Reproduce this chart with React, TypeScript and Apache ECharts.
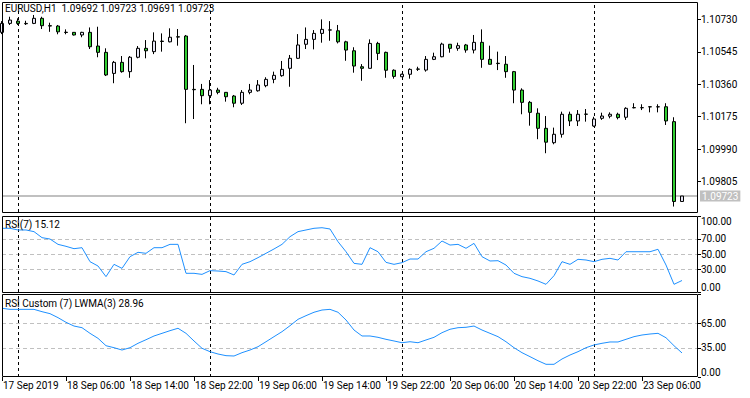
import React, { useEffect, useRef } from "react";
import * as echarts from "echarts";

// ---- data ----
const sessions: [string, number, number][] = [
  ["17 Sep", 22, 23],
  ["18 Sep", 0, 23],
  ["19 Sep", 0, 23],
  ["20 Sep", 0, 23],
  ["23 Sep", 0, 11],
];
const categories: string[] = [];
sessions.forEach(([d, a, b]) => {
  for (let h = a; h <= b; h++) categories.push(`${d} ${String(h).padStart(2, "0")}:00`);
});
categories.push("pad1", "pad2");

const opens = [1.10656,1.10707,1.10720,1.10707,1.10707,1.10736,1.10694,1.10692,1.10657,1.10656,1.10641,1.10656,1.10578,1.10542,1.10422,1.10485,1.10432,1.10514,1.10565,1.10546,1.10606,1.10602,1.10631,1.10635,1.10331,1.10331,1.10295,1.10327,1.10314,1.10293,1.10252,1.10314,1.10323,1.10352,1.10388,1.10409,1.10451,1.10508,1.10588,1.10616,1.10650,1.10670,1.10665,1.10602,1.10551,1.10460,1.10451,1.10593,1.10542,1.10440,1.10403,1.10417,1.10447,1.10441,1.10502,1.10517,1.10588,1.10565,1.10584,1.10555,1.10599,1.10502,1.10480,1.10474,1.10432,1.10327,1.10257,1.10195,1.10109,1.10027,1.10075,1.10189,1.10151,1.10190,1.10122,1.10166,1.10178,1.10189,1.10172,1.10227,1.10226,1.10232,1.10231,1.10232,1.10147,1.09692];
const highs = [1.10720,1.10745,1.10736,1.10722,1.10755,1.10745,1.10711,1.10698,1.10673,1.10658,1.10659,1.10684,1.10688,1.10565,1.10493,1.10521,1.10521,1.10578,1.10612,1.10656,1.10650,1.10679,1.10675,1.10641,1.10470,1.10362,1.10384,1.10340,1.10316,1.10299,1.10327,1.10362,1.10384,1.10400,1.10432,1.10493,1.10527,1.10646,1.10684,1.10669,1.10730,1.10720,1.10698,1.10608,1.10571,1.10475,1.10616,1.10602,1.10546,1.10445,1.10420,1.10451,1.10460,1.10521,1.10540,1.10597,1.10588,1.10597,1.10590,1.10641,1.10673,1.10580,1.10546,1.10521,1.10436,1.10337,1.10265,1.10223,1.10179,1.10113,1.10204,1.10204,1.10213,1.10219,1.10175,1.10198,1.10200,1.10198,1.10229,1.10252,1.10246,1.10233,1.10246,1.10252,1.10172,1.09723];
const lows = [1.10646,1.10698,1.10698,1.10698,1.10703,1.10675,1.10659,1.10645,1.10645,1.10638,1.10628,1.10561,1.10514,1.10407,1.10366,1.10426,1.10397,1.10508,1.10508,1.10532,1.10546,1.10599,1.10580,1.10138,1.10162,1.10246,1.10246,1.10303,1.10261,1.10229,1.10242,1.10303,1.10318,1.10343,1.10366,1.10403,1.10346,1.10505,1.10561,1.10559,1.10597,1.10608,1.10593,1.10494,1.10426,1.10380,1.10450,1.10498,1.10397,1.10392,1.10403,1.10392,1.10436,1.10432,1.10498,1.10514,1.10540,1.10551,1.10540,1.10536,1.10454,1.10473,1.10441,1.10397,1.10252,1.10189,1.10124,1.10047,1.09967,1.10018,1.10056,1.10122,1.10122,1.10147,1.10118,1.10157,1.10166,1.10160,1.10157,1.10223,1.10213,1.10200,1.10200,1.10128,1.09663,1.09691];
const closes = [1.10707,1.10726,1.10707,1.10705,1.10736,1.10694,1.10692,1.10659,1.10655,1.10641,1.10656,1.10574,1.10542,1.10413,1.10485,1.10432,1.10514,1.10565,1.10551,1.10606,1.10604,1.10628,1.10629,1.10331,1.10329,1.10295,1.10327,1.10314,1.10289,1.10252,1.10314,1.10327,1.10356,1.10388,1.10411,1.10445,1.10508,1.10584,1.10616,1.10650,1.10673,1.10669,1.10602,1.10555,1.10464,1.10451,1.10593,1.10536,1.10440,1.10405,1.10417,1.10445,1.10446,1.10502,1.10517,1.10589,1.10565,1.10580,1.10555,1.10599,1.10502,1.10474,1.10478,1.10432,1.10327,1.10257,1.10200,1.10109,1.10030,1.10075,1.10189,1.10151,1.10189,1.10189,1.10162,1.10179,1.10189,1.10170,1.10223,1.10226,1.10227,1.10231,1.10232,1.10151,1.09692,1.09723];

const rsi = [83.8,83.8,81.6,81.6,79.4,71.5,69.7,62.7,60.1,57.0,58.3,39.9,34.2,20.2,36.4,31.1,46.5,52.2,50.9,58.3,58.3,62.7,62.7,24.6,24.6,23.2,28.1,27.6,26.8,22.4,36.4,39.9,45.2,50.9,56.6,62.7,72.8,79.4,81.6,83.8,84.6,82.9,66.2,53.0,37.7,36.4,58.3,53.0,39.0,36.4,38.6,43.4,43.4,53.0,57.5,67.1,61.8,62.7,57.5,64.0,46.5,40.8,41.2,35.5,24.6,20.2,18.0,14.5,10.1,21.5,39.9,36.4,43.0,42.1,39.9,43.0,44.3,42.1,53.0,53.0,53.0,53.0,56.2,35.5,10.1,15.12];
const rsiCustom = [82.8,81.5,81.5,81.5,81.5,78.7,76.3,71.5,65.9,61.4,59.4,52.6,46.6,37.7,35.3,32.5,35.3,40.6,44.9,49.4,52.6,55.8,58.7,52.6,43.4,34.6,30.5,27.7,25.7,25.3,29.3,32.5,36.5,42.5,48.6,54.6,61.8,69.5,73.9,78.0,80.7,81.5,78.0,68.7,56.6,49.4,49.4,47.8,45.4,43.4,41.3,42.5,41.3,44.6,47.8,53.4,57.5,59.4,59.9,61.4,56.6,52.6,48.6,42.5,35.3,29.3,24.5,19.6,15.3,15.3,21.7,26.5,30.5,35.3,38.6,40.6,42.2,42.2,45.4,48.6,50.6,51.8,52.6,47.3,37.7,28.96];

const priceTicks = [1.09805, 1.0999, 1.10175, 1.1036, 1.10545, 1.1073];
const rsiTicks = [0, 30, 50, 70, 100];
const rsiLevels = [30, 50, 70];
const customTicks = [0, 35, 65, 100];
const customLevels = [35, 65];
const customTop = 100;
const timeTickIndex = [0, 8, 16, 24, 32, 40, 48, 56, 64, 72, 80];
const timeTickLabels = ["17 Sep 2019", "18 Sep 06:00", "18 Sep 14:00", "18 Sep 22:00", "19 Sep 06:00", "19 Sep 14:00", "19 Sep 22:00", "20 Sep 06:00", "20 Sep 14:00", "20 Sep 22:00", "23 Sep 06:00"];
const daySeparators = [2, 26, 50, 74];
const lastPrice = 1.09723;
const header = "EURUSD,H1  1.09692 1.09723 1.09691 1.09723";
const rsiTitle = "RSI(7) 15.12";
const customTitle = "RSI Custom (7) LWMA(3) 28.96";

const FONT = "Roboto";

export default function App() {
  const ref = useRef<HTMLDivElement>(null);
  useEffect(() => {
    const chart = echarts.init(ref.current!, null, { renderer: "svg" });
    const candleData = opens.map((o, i) => [o, closes[i], lows[i], highs[i]]);
    const sepLines = daySeparators.map((i) => ({
      xAxis: categories[i],
      lineStyle: { color: "#000", width: 1, type: [3, 3] as any },
      label: { show: false },
    }));
    const xAxisBase = (gridIndex: number, show: boolean) => ({
      type: "category",
      gridIndex,
      data: categories,
      boundaryGap: false,
      show,
      axisLine: { show: false },
      axisTick: {
        show,
        length: 4,
        interval: (idx: number) => timeTickIndex.includes(idx),
        lineStyle: { color: "#000", width: 1 },
      },
      axisLabel: {
        show,
        interval: (idx: number) => timeTickIndex.includes(idx),
        formatter: (_v: string, idx: number) => {
          const k = timeTickIndex.indexOf(idx);
          return k >= 0 ? timeTickLabels[k] : "";
        },
        align: "left",
        margin: 3,
        padding: [0, 0, 0, 1],
        color: "#000",
        fontSize: 10,
        fontFamily: FONT,
      },
      splitLine: { show: false },
    });
    const baseLabel = {
      color: "#000",
      fontSize: 10,
      fontFamily: FONT,
      margin: 3,
      showMinLabel: true,
      showMaxLabel: true,
      hideOverlap: false,
    };
    const option: any = {
      animation: false,
      backgroundColor: "#fff",
      textStyle: { fontFamily: FONT },
      grid: [
        { left: 2, top: 2, width: 696, height: 210 },
        { left: 2, top: 216, width: 696, height: 76 },
        { left: 2, top: 294, width: 696, height: 83 },
      ],
      xAxis: [xAxisBase(0, false), xAxisBase(1, false), xAxisBase(2, true)],
      yAxis: [
        {
          type: "value",
          gridIndex: 0,
          position: "right",
          min: 1.09632,
          max: 1.10829,
          axisLine: { show: false },
          axisTick: { show: true, length: 3, customValues: priceTicks, lineStyle: { color: "#000" } },
          axisLabel: { ...baseLabel, customValues: priceTicks, formatter: (v: number) => v.toFixed(5) },
          splitLine: { show: false },
        },
        {
          type: "value",
          gridIndex: 1,
          position: "right",
          min: 0,
          max: 100,
          axisLine: { show: false },
          axisTick: { show: true, length: 3, customValues: rsiTicks, lineStyle: { color: "#000" } },
          axisLabel: {
            ...baseLabel,
            customValues: rsiTicks,
            formatter: (v: number) => v.toFixed(2),
            verticalAlignMinLabel: "bottom",
            verticalAlignMaxLabel: "top",
          },
          splitLine: { show: false },
        },
        {
          type: "value",
          gridIndex: 2,
          position: "right",
          min: 0,
          max: 100,
          axisLine: { show: false },
          axisTick: { show: true, length: 3, customValues: customTicks, lineStyle: { color: "#000" } },
          axisLabel: {
            ...baseLabel,
            customValues: customTicks.filter((v) => v !== customTop),
            formatter: (v: number) => v.toFixed(2),
            verticalAlignMinLabel: "bottom",
          },
          splitLine: { show: false },
        },
      ],
      series: [
        {
          type: "candlestick",
          xAxisIndex: 0,
          yAxisIndex: 0,
          data: candleData,
          barWidth: 4,
          itemStyle: {
            color: "#e6e6f5",
            color0: "#32cd32",
            borderColor: "#000",
            borderColor0: "#000",
            borderWidth: 1,
          },
          markLine: {
            silent: true,
            symbol: "none",
            precision: 5,
            z: 1,
            data: [
              ...sepLines,
              {
                yAxis: lastPrice,
                lineStyle: { color: "#c0c0c0", width: 2, type: "solid" },
                label: {
                  show: true,
                  position: "end",
                  formatter: lastPrice.toFixed(5),
                  color: "#fff",
                  backgroundColor: "#c0c0c0",
                  padding: [1, 2, 0, 2],
                  distance: 2,
                  fontSize: 10,
                  fontFamily: FONT,
                },
              },
            ],
          },
        },
        {
          type: "line",
          xAxisIndex: 1,
          yAxisIndex: 1,
          data: rsi,
          showSymbol: false,
          lineStyle: { color: "#1e90ff", width: 1 },
          itemStyle: { color: "#1e90ff" },
          markLine: {
            silent: true,
            symbol: "none",
            precision: 2,
            z: 1,
            data: [
              ...rsiLevels.map((v) => ({
                yAxis: v,
                lineStyle: { color: "#c0c0c0", width: 1, type: [4, 3] },
                label: { show: false },
              })),
              ...sepLines,
            ],
          },
        },
        {
          type: "line",
          xAxisIndex: 2,
          yAxisIndex: 2,
          data: rsiCustom,
          showSymbol: false,
          lineStyle: { color: "#1e90ff", width: 1 },
          itemStyle: { color: "#1e90ff" },
          markLine: {
            silent: true,
            symbol: "none",
            precision: 2,
            z: 1,
            data: [
              ...customLevels.map((v) => ({
                yAxis: v,
                lineStyle: { color: "#c0c0c0", width: 1, type: [4, 3] },
                label: { show: false },
              })),
              ...sepLines,
              {
                yAxis: customTop,
                lineStyle: { opacity: 0 },
                label: {
                  show: true,
                  position: "end",
                  formatter: customTop.toFixed(2),
                  color: "#000",
                  distance: 3,
                  fontSize: 10,
                  fontFamily: FONT,
                  verticalAlign: "top",
                  padding: [1, 0, 0, 0],
                },
              },
            ],
          },
        },
      ],
      graphic: [
        { type: "rect", shape: { x: 2.5, y: 2.5, width: 695, height: 210 }, style: { fill: "transparent", stroke: "#000", lineWidth: 1 }, z: 100 },
        { type: "rect", shape: { x: 2.5, y: 216.5, width: 695, height: 76 }, style: { fill: "transparent", stroke: "#000", lineWidth: 1 }, z: 100 },
        { type: "rect", shape: { x: 2.5, y: 294.5, width: 695, height: 82 }, style: { fill: "transparent", stroke: "#000", lineWidth: 1 }, z: 100 },
        { type: "text", x: 5, y: 3, style: { text: header, fill: "#000", fontSize: 10, fontFamily: FONT, verticalAlign: "top" }, z: 101 },
        { type: "text", x: 5, y: 219, style: { text: rsiTitle, fill: "#000", fontSize: 10, fontFamily: FONT, verticalAlign: "top" }, z: 101 },
        { type: "text", x: 5, y: 298, style: { text: customTitle, fill: "#000", fontSize: 10, fontFamily: FONT, verticalAlign: "top" }, z: 101 },
      ],
    };
    chart.setOption(option);
    return () => chart.dispose();
  }, []);
  return (
    <div
      ref={ref}
      style={{ position: "fixed", left: 0, top: 0, width: 750, height: 398, background: "#fff" }}
    />
  );
}
